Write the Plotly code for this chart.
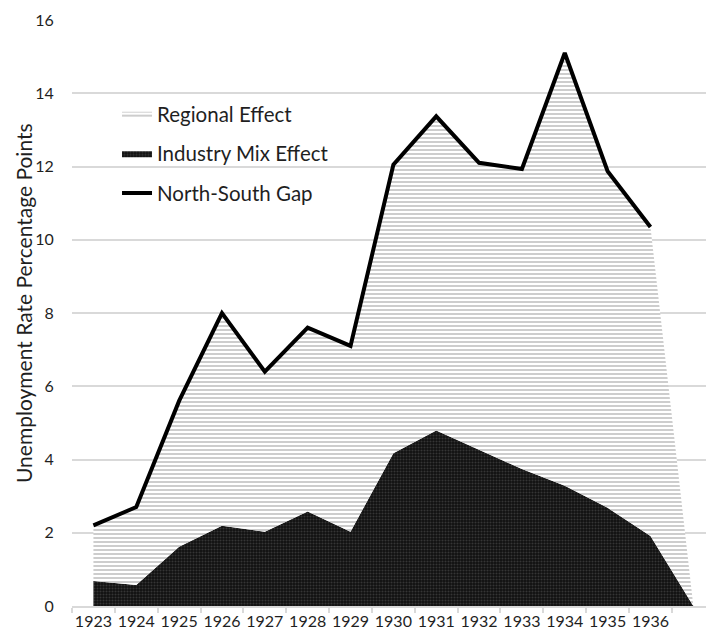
import plotly.graph_objects as go

# Years on the category axis; the trailing blank slot is where the areas close to zero
years = ["1923", "1924", "1925", "1926", "1927", "1928", "1929",
         "1930", "1931", "1932", "1933", "1934", "1935", "1936", " "]

# North-South unemployment gap (percentage points)
north_south_gap = [2.2, 2.7, 5.6, 8.0, 6.4, 7.6, 7.1,
                   12.05, 13.37, 12.1, 11.93, 15.1, 11.87, 10.35]

# Part of the gap explained by industry mix
industry_mix = [0.68, 0.57, 1.62, 2.19, 2.03, 2.58, 2.03,
                4.17, 4.79, 4.26, 3.74, 3.28, 2.68, 1.91, 0.0]

# Remaining regional component (gap minus industry mix)
regional = [1.52, 2.13, 3.98, 5.81, 4.37, 5.02, 5.07,
            7.88, 8.58, 7.84, 8.19, 11.82, 9.19, 8.44, 0.0]

y_ticks = [0, 2, 4, 6, 8, 10, 12, 14, 16]

FONT = "Lato"
TEXT = "#1f1f1f"
GRID = "#d9d9d9"

fig = go.Figure()

fig.add_trace(go.Scatter(
    x=years, y=industry_mix, name="Industry Mix Effect",
    stackgroup="one", mode="lines", line=dict(width=0, color="#111111"),
    fillcolor="#151515",
    fillpattern=dict(shape=".", fgcolor="#5a5a5a", bgcolor="#111111",
                     size=3, solidity=0.35),
    legendrank=2, legendgroup="b", hoverinfo="skip",
))

fig.add_trace(go.Scatter(
    x=years, y=regional, name="Regional Effect",
    stackgroup="one", mode="lines", line=dict(width=0, color="#9a9a9a"),
    fillcolor="#ffffff",
    fillpattern=dict(shape="-", fgcolor="#6e6e6e", bgcolor="#ffffff",
                     size=4, solidity=0.35),
    legendrank=1, legendgroup="a", hoverinfo="skip",
))

fig.add_trace(go.Scatter(
    x=years[:len(north_south_gap)], y=north_south_gap, name="North-South Gap",
    mode="lines", line=dict(color="#000000", width=4),
    legendrank=3, legendgroup="c",
))

fig.add_annotation(
    text="Unemployment Rate Percentage Points",
    xref="paper", yref="paper", x=-0.0773, y=0.517,
    xanchor="center", yanchor="middle", textangle=-90, showarrow=False,
    font=dict(family=FONT, size=21, color=TEXT),
)

fig.update_layout(
    width=706, height=635,
    margin=dict(l=72, r=0, t=20, b=29),
    paper_bgcolor="white", plot_bgcolor="white",
    font=dict(family=FONT, color=TEXT),
    showlegend=True,
    legend=dict(
        x=0.071, y=0.874, xanchor="left", yanchor="top",
        bgcolor="rgba(0,0,0,0)", font=dict(family=FONT, size=20.5, color=TEXT),
        traceorder="grouped", tracegroupgap=10,
    ),
    xaxis=dict(
        type="category", categoryorder="array", categoryarray=years,
        range=[-0.5, 14.296], tickson="boundaries", tickangle=0,
        ticks="outside", ticklen=5, tickcolor=GRID, tickwidth=1.5,
        showgrid=False, showline=True, linecolor=GRID, linewidth=1.5,
        tickfont=dict(family=FONT, size=16, color=TEXT),
        fixedrange=True,
    ),
    yaxis=dict(
        range=[0, 16], tickvals=y_ticks,
        showgrid=True, gridcolor=GRID, gridwidth=1.5,
        zeroline=False, showline=False,
        ticks="outside", ticklen=14, tickcolor="rgba(0,0,0,0)",
        tickfont=dict(family=FONT, size=16, color=TEXT),
        fixedrange=True,
    ),
)

fig.write_html("out.html")
